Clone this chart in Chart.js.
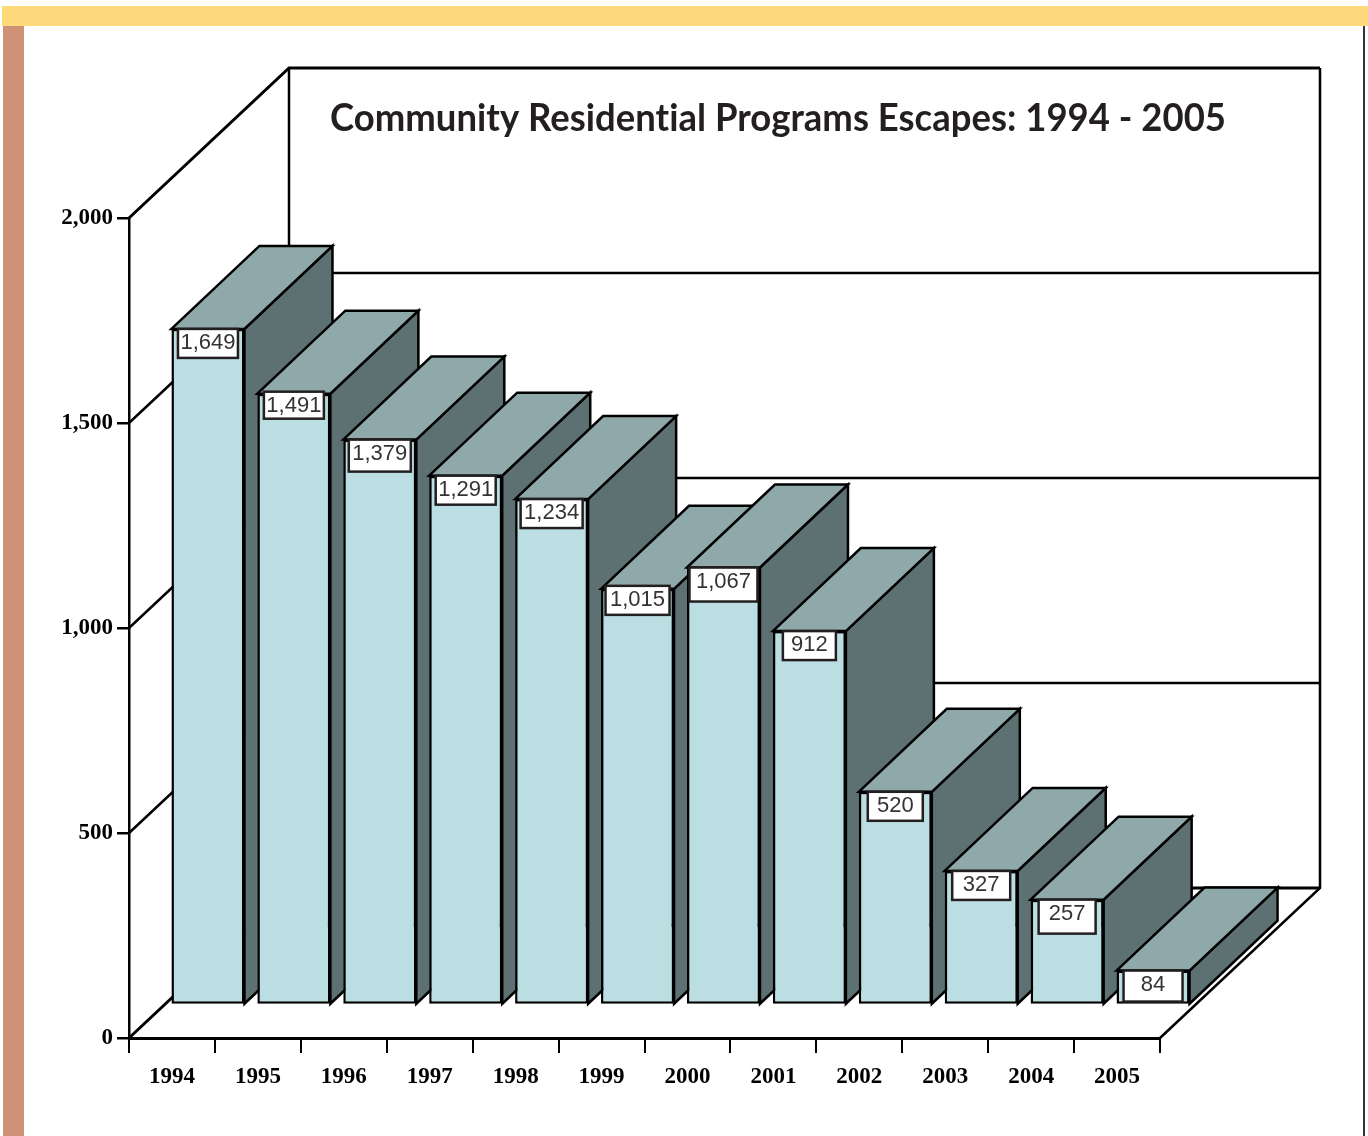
<!DOCTYPE html>
<html>
<head>
<meta charset="utf-8">
<title>Community Residential Programs Escapes</title>
<script src="https://cdn.jsdelivr.net/npm/chart.js@4/dist/chart.umd.min.js"></script>
<style>
    body { margin: 0; background: #fff; }
    .wrap { position: relative; width: 1368px; height: 1136px; overflow: hidden; }
    .band-top { position: absolute; left: 2px; right: 0; top: 6px; height: 20px; background: #ffda7c; }
    .band-left { position: absolute; left: 3px; top: 26px; bottom: 0; width: 21px; background: #d09276; }
    .line-right { position: absolute; left: 1363px; top: 26px; bottom: 0; width: 2px; background: #333; }
    canvas { position: absolute; left: 0; top: 0; }
</style>
</head>
<body>
<div class="wrap">
    <div class="band-top"></div>
    <div class="band-left"></div>
    <div class="line-right"></div>
    <canvas id="myChart" width="1368" height="1136"></canvas>
</div>
<script>
const years = ['1994', '1995', '1996', '1997', '1998', '1999', '2000', '2001', '2002', '2003', '2004', '2005'];
const escapes = [1649, 1491, 1379, 1291, 1234, 1015, 1067, 912, 520, 327, 257, 84];
const yTicks = [0, 500, 1000, 1500, 2000];
const chartTitle = 'Community Residential Programs Escapes: 1994 - 2005';

// depth of the box behind the axis plane
const wallDx = 160, wallDy = -150;
// bars stand a bit behind the front plane
const barDx = 36, barDy = -33;
const topDx = 88, topDy = -83;
// the value boxes are not all one size in the original
const boxW = [60, 60, 62, 60, 62, 64, 68, 53, 55, 58, 57, 59];
const boxH = [29, 27, 32, 29, 29, 29, 34, 29, 29, 29, 34, 31];
const boxUp = [0, 2, 0, 0, 0, 3, 0, 0, 0, 0, 0, 0];

function poly(ctx, pts, fill, width) {
    ctx.beginPath();
    ctx.moveTo(pts[0][0], pts[0][1]);
    for (let i = 1; i < pts.length; i++) ctx.lineTo(pts[i][0], pts[i][1]);
    if (fill) {
        ctx.closePath();
        ctx.fillStyle = fill;
        ctx.fill();
    }
    ctx.strokeStyle = '#000';
    ctx.lineWidth = width;
    ctx.lineJoin = 'miter';
    ctx.stroke();
}

const box3d = {
    id: 'box3d',
    beforeDatasetsDraw(chart) {
        const ctx = chart.ctx;
        const a = chart.chartArea;
        const y = chart.scales.y;
        ctx.save();
        // walls and floor
        yTicks.forEach(function(t) {
            const py = y.getPixelForValue(t);
            poly(ctx, [[a.left, py], [a.left + wallDx, py + wallDy], [a.right + wallDx, py + wallDy]], null, t === 0 || t === 2000 ? 3 : 2.5);
        });
        poly(ctx, [[a.left + wallDx, a.top + wallDy], [a.left + wallDx, a.bottom + wallDy]], null, 2.5);
        poly(ctx, [[a.right + wallDx, a.top + wallDy], [a.right + wallDx, a.bottom + wallDy], [a.right, a.bottom]], null, 2.5);
        // title sits on the back wall, squeezed to the original's width
        ctx.fillStyle = '#231f20';
        ctx.font = 'bold 38px Lato';
        ctx.letterSpacing = '0.01px';
        ctx.textAlign = 'left';
        ctx.textBaseline = 'alphabetic';
        const tw = ctx.measureText(chartTitle).width;
        ctx.translate(330, 131);
        ctx.scale(896 / tw, 1);
        ctx.fillText(chartTitle, 0, 0);
        ctx.restore();
    },
    beforeDatasetDraw() {
        // bars are drawn by hand below, one at a time, so they overlap right
        return false;
    },
    afterDatasetsDraw(chart) {
        const ctx = chart.ctx;
        const meta = chart.getDatasetMeta(0);
        ctx.save();
        ctx.translate(barDx, barDy);
        meta.data.forEach(function(bar, i) {
            const l = bar.x - bar.width / 2, r = bar.x + bar.width / 2;
            const t = bar.y, b = bar.base;
            poly(ctx, [[r, b], [r + topDx, b + topDy], [r + topDx, t + topDy], [r, t]], '#5d7172', 2.5);
            poly(ctx, [[l, t], [l + topDx, t + topDy], [r + topDx, t + topDy], [r, t]], '#8fa8aa', 2.5);
            bar.draw(ctx);

            // value box
            const text = escapes[i].toLocaleString('en-US');
            const w = boxW[i], h = boxH[i], bt = t - boxUp[i];
            ctx.fillStyle = '#fff';
            ctx.fillRect(bar.x - w / 2, bt, w, h);
            ctx.strokeStyle = '#231f20';
            ctx.lineWidth = 2.5;
            ctx.strokeRect(bar.x - w / 2, bt, w, h);
            ctx.font = '22px "Liberation Sans"';
            ctx.fillStyle = '#333';
            ctx.textAlign = 'center';
            ctx.textBaseline = 'middle';
            ctx.fillText(text, bar.x, bt + 14);
        });
        ctx.restore();
    }
};

const myChart = new Chart(document.getElementById('myChart').getContext('2d'), {
    type: 'bar',
    data: {
        labels: years,
        datasets: [{
            label: 'Escapes',
            data: escapes,
            backgroundColor: '#bbdee2',
            borderColor: '#000',
            borderWidth: 2.5,
            borderSkipped: false,
            barPercentage: 0.85,
            categoryPercentage: 1
        }]
    },
    options: {
        responsive: false,
        animation: false,
        layout: { padding: { left: 0, top: 218, right: 208, bottom: 0 } },
        plugins: {
            legend: { display: false },
            title: { display: false },
            tooltip: { enabled: false }
        },
        scales: {
            x: {
                offset: true,
                afterFit: function(scale) { scale.height = 98; },
                grid: { offset: true, drawOnChartArea: false, color: '#000', lineWidth: 2, tickLength: 15 },
                border: { color: '#000', width: 3 },
                ticks: {
                    color: '#000',
                    padding: 10,
                    maxRotation: 0,
                    autoSkip: false,
                    font: { family: 'Liberation Serif', weight: 'bold', size: 23 }
                }
            },
            y: {
                min: 0,
                max: 2000,
                afterFit: function(scale) { scale.width = 129; },
                afterBuildTicks: function(scale) {
                    scale.ticks = yTicks.map(function(v) { return { value: v }; });
                },
                grid: { drawOnChartArea: false, color: '#000', lineWidth: 2.5, tickLength: 12 },
                border: { color: '#000', width: 2.5 },
                ticks: {
                    color: '#000',
                    padding: 4,
                    font: { family: 'Liberation Serif', weight: 'bold', size: 23 },
                    callback: function(v) { return Number(v).toLocaleString('en-US'); }
                }
            }
        }
    },
    plugins: [box3d]
});
</script>
</body>
</html>
